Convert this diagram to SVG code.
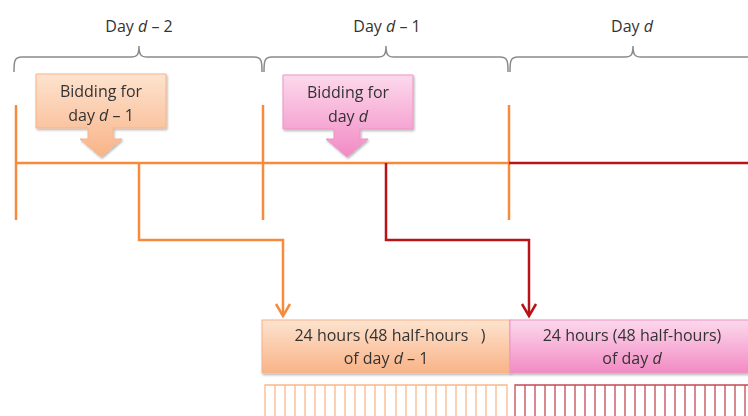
<svg xmlns="http://www.w3.org/2000/svg" width="748" height="416" viewBox="0 0 748 416">
<defs>
<style>
text{font-family:"Open Sans","Liberation Sans",sans-serif;font-size:16px;fill:#333333;text-anchor:middle}
.it{font-style:italic}
.br{fill:none;stroke:#8a8a8a;stroke-width:1.5}
.or{stroke:#F68B3E;stroke-width:2.5;fill:none}
.rd{stroke:#B81418;stroke-width:2.5;fill:none}
.tko{stroke:#F9B88C;stroke-width:1.3;fill:none}
.tkr{stroke:#C44A55;stroke-width:1.3;fill:none}
</style>
<linearGradient id="gO" x1="0" y1="0" x2="0" y2="1">
<stop offset="0" stop-color="#FDE3CF"/><stop offset="1" stop-color="#F9B387"/>
</linearGradient>
<linearGradient id="gP" x1="0" y1="0" x2="0" y2="1">
<stop offset="0" stop-color="#FCD9EC"/><stop offset="1" stop-color="#F28AC4"/>
</linearGradient>
<filter id="sh" x="-10%" y="-10%" width="120%" height="130%">
<feDropShadow dx="1" dy="1.5" stdDeviation="1.2" flood-color="#000" flood-opacity="0.3"/>
</filter>
</defs>

<g id="brackets">
<path class="br" d="M14,72 C14,62 14,57 22,57 L131,57 C137,57 139,55 139,46 C139,55 141,57 147,57 L254,57 C262,57 262,62 262,72"/>
<path class="br" d="M264,72 C264,62 264,57 272,57 L378,57 C384,57 386,55 386,46 C386,55 388,57 394,57 L500,57 C508,57 508,62 508,72"/>
<path class="br" d="M510,72 C510,62 510,57 518,57 L625,57 C631,57 633,55 633,46 C633,55 635,57 641,57 L760,57"/>
<text x="139" y="32">Day <tspan class="it">d</tspan> – 2</text>
<text x="387" y="32">Day <tspan class="it">d</tspan> – 1</text>
<text x="632" y="32">Day <tspan class="it">d</tspan></text>
</g>

<g id="timeline">
<line class="or" x1="16" y1="105" x2="16" y2="220"/>
<line class="or" x1="263" y1="105" x2="263" y2="220"/>
<line class="or" x1="509" y1="105" x2="509" y2="220"/>
<line class="or" x1="16" y1="163" x2="509" y2="163"/>
<line class="rd" x1="509" y1="163" x2="748" y2="163"/>
</g>

<g id="bid1" filter="url(#sh)">
<path fill="url(#gO)" stroke="#F7B48A" stroke-width="1" d="M36,74 H166 V128 H113 V139 H122 L101,157 L80,139 H88 V128 H36 Z"/>
<text x="101" y="97">Bidding for</text>
<text x="101" y="121">day <tspan class="it">d</tspan> – 1</text>
</g>

<g id="bid2" filter="url(#sh)">
<path fill="url(#gP)" stroke="#EE93C4" stroke-width="1" d="M283,75 H413 V129 H360 V139 H368 L347,157 L326,139 H334 V129 H283 Z"/>
<text x="348" y="98">Bidding for</text>
<text x="348" y="122">day <tspan class="it">d</tspan></text>
</g>

<g id="connectors">
<path class="or" d="M139,163 V240 H283 V315"/>
<path class="or" d="M276,304 L283,316 L290,304"/>
<path class="rd" d="M386,163 V240 H529 V315"/>
<path class="rd" d="M522,304 L529,316 L536,304"/>
</g>

<g id="hours1" filter="url(#sh)">
<rect x="262" y="320" width="248" height="53" fill="url(#gO)" stroke="#F7B48A" stroke-width="1"/>
<text x="390" y="341">24 hours (48 half-hours &#160;&#160;)</text>
<text x="386" y="364">of day <tspan class="it">d</tspan> – 1</text>
</g>

<g id="hours2" filter="url(#sh)">
<rect x="510" y="320" width="245" height="53" fill="url(#gP)" stroke="#EE93C4" stroke-width="1"/>
<text x="632" y="341">24 hours (48 half-hours)</text>
<text x="632" y="364">of day <tspan class="it">d</tspan></text>
</g>

<g id="ticks1">
<path class="tko" d="M265,420 V385 H507 V420 M275,385V420 M285,385V420 M295,385V420 M305,385V420 M315,385V420 M325,385V420 M335,385V420 M345,385V420 M355,385V420 M365,385V420 M375,385V420 M385,385V420 M396,385V420 M406,385V420 M416,385V420 M426,385V420 M436,385V420 M446,385V420 M456,385V420 M466,385V420 M476,385V420 M486,385V420 M496,385V420"/>
</g>

<g id="ticks2">
<path class="tkr" d="M515,420 V385 H760 M525,385V420 M535,385V420 M545,385V420 M555,385V420 M565,385V420 M575,385V420 M585,385V420 M595,385V420 M605,385V420 M615,385V420 M625,385V420 M635,385V420 M645,385V420 M655,385V420 M665,385V420 M675,385V420 M685,385V420 M695,385V420 M705,385V420 M715,385V420 M725,385V420 M735,385V420 M745,385V420"/>
</g>
</svg>
